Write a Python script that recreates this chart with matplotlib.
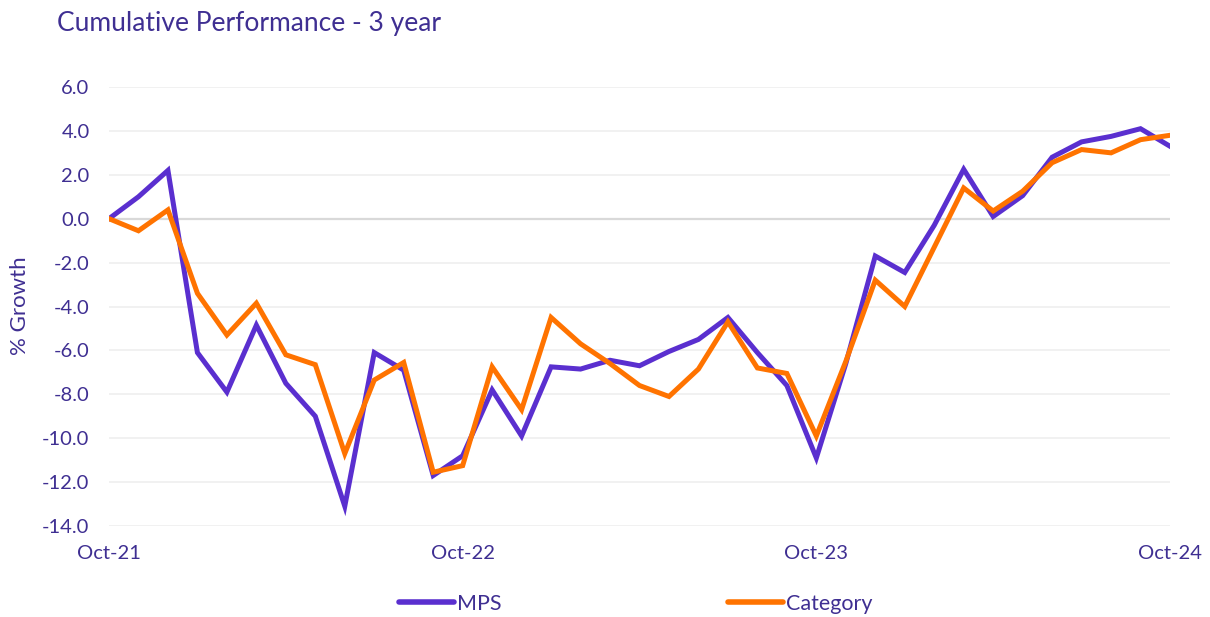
# Cumulative Performance - 3 year (MPS vs Category)
import matplotlib
matplotlib.use("Agg")
import matplotlib.pyplot as plt

plt.rcParams['font.family'] = ['Lato', 'DejaVu Sans']

# 月次データ Oct-21 .. Oct-24 (37ポイント)
months = list(range(37))
tick_pos = [0, 12, 24, 36]
tick_labels = ["Oct-21", "Oct-22", "Oct-23", "Oct-24"]

mps = [0.0, 1.0, 2.2, -6.1, -7.9, -4.85, -7.5, -9.0, -13.1, -6.1,
       -6.9, -11.7, -10.8, -7.8, -9.9, -6.75, -6.85, -6.45, -6.7, -6.05,
       -5.5, -4.5, -6.1, -7.6, -10.9, -6.6, -1.7, -2.45, -0.3, 2.25,
       0.1, 1.05, 2.8, 3.5, 3.75, 4.1, 3.3]
category = [0.0, -0.55, 0.4, -3.4, -5.3, -3.85, -6.2, -6.65, -10.7, -7.35,
            -6.55, -11.55, -11.25, -6.75, -8.7, -4.5, -5.7, -6.6, -7.6, -8.1,
            -6.85, -4.7, -6.8, -7.05, -9.9, -6.5, -2.8, -4.0, -1.3, 1.4,
            0.35, 1.25, 2.55, 3.15, 3.0, 3.6, 3.8]

text_col = "#3f2f92"
mps_col = "#5a2fcf"
cat_col = "#ff7300"

fig = plt.figure(figsize=(12.1, 6.17), dpi=100)
ax = fig.add_axes([109 / 1210, 1 - 526 / 617, (1170 - 109) / 1210, (526 - 87) / 617])

# グリッド
for v in range(-14, 7, 2):
    ax.axhline(v, color="#d9d9d9" if v == 0 else "#f0f0f0", lw=1.6 if v == 0 else 1.3, zorder=0)

ax.plot(months, mps, color=mps_col, lw=3.6, label="MPS", solid_joinstyle="miter", zorder=3)
ax.plot(months, category, color=cat_col, lw=3.6, label="Category", solid_joinstyle="miter", zorder=4)

ax.set_xlim(0, 36)
ax.set_ylim(-14, 6)
ax.set_xticks(tick_pos)
ax.set_xticklabels(tick_labels)
ax.set_yticks(range(-14, 7, 2))
ax.set_yticklabels([f"{v:.1f}" for v in range(-14, 7, 2)])
ax.tick_params(length=0, labelsize=14.5, labelcolor=text_col)
ax.tick_params(axis="y", pad=14)
ax.tick_params(axis="x", pad=14)
for s in ax.spines.values():
    s.set_visible(False)

fig.text(20 / 1210, 1 - 306 / 617, "% Growth", rotation=90, ha="center", va="center",
         color=text_col, fontsize=16)
fig.text(57 / 1210, 1 - 24 / 617, "Cumulative Performance - 3 year", ha="left", va="center",
         color=text_col, fontsize=19)

leg = fig.legend(loc="center", bbox_to_anchor=(636 / 1210, 1 - 604 / 617), ncol=2, frameon=False,
                 fontsize=15.5, handlelength=2.55, handletextpad=0.15, columnspacing=10.5,
                 labelcolor=text_col)
for line in leg.get_lines():
    line.set_linewidth(4)
    line.set_solid_capstyle("round")

fig.savefig("out.png", dpi=100)
